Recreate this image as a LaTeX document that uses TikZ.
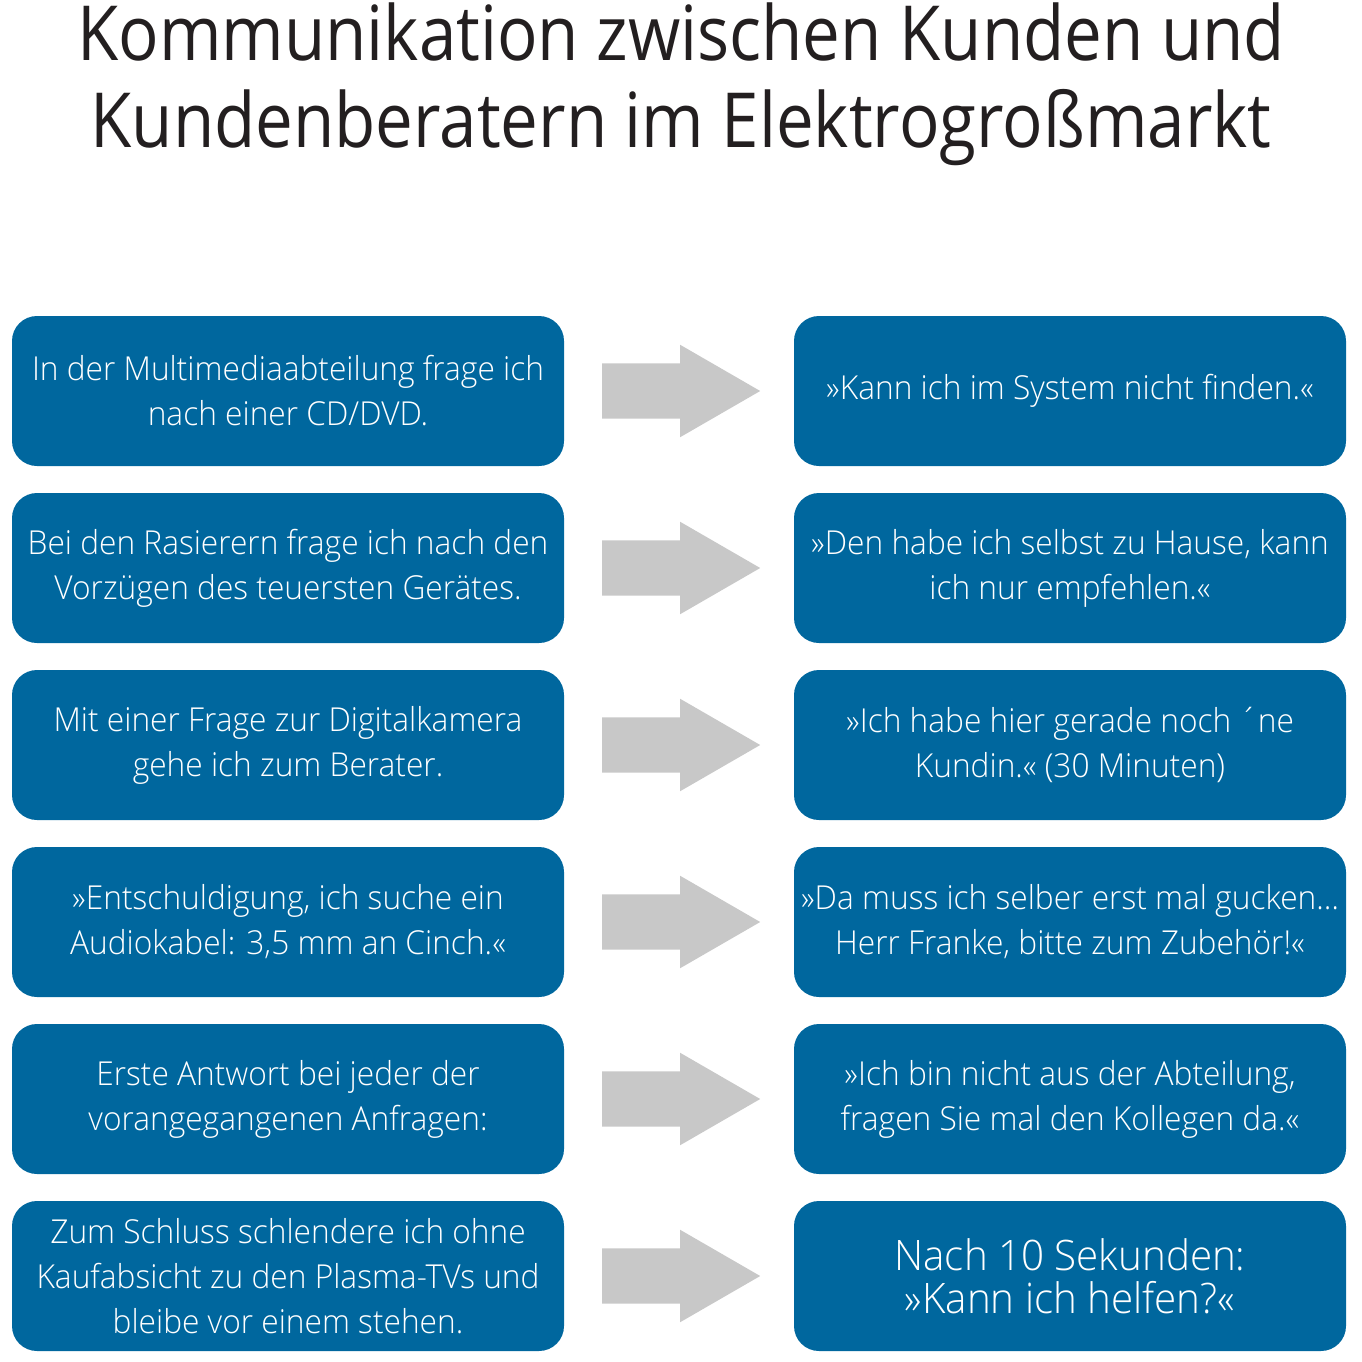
\documentclass[tikz,border=0pt]{standalone}
\usepackage{fontspec}
\setmainfont{Open Sans Light}[FakeStretch=0.96]
\newfontfamily\titelfont{Open Sans}[FakeStretch=0.885]
\usetikzlibrary{shapes.arrows}
\definecolor{kastenblau}{RGB}{0,103,158}
\definecolor{pfeilgrau}{RGB}{200,200,200}
\definecolor{titelschwarz}{RGB}{35,31,32}
\tikzset{
	kasten/.style={fill=kastenblau, rounded corners=25pt, minimum width=552pt, minimum height=150pt,
		inner sep=0pt, text=white, align=center, font=\fontsize{33}{45}\selectfont},
	pfeil/.style={single arrow, fill=pfeilgrau, minimum height=158pt, single arrow tip angle=60,
		single arrow head extend=18.5pt, inner xsep=0pt, inner ysep=27.5pt, anchor=tail},
}

\begin{document}
\begin{tikzpicture}[x=1pt, y=-1pt]
		\useasboundingbox (0, 0) rectangle (1362, 1362);
		\node[font=\titelfont\fontsize{76}{87}\selectfont, text=titelschwarz, align=center, anchor=base] (titel) at (681, 147)
		{Kommunikation zwischen Kunden und\\Kundenberatern im Elektrogroßmarkt};

		\node[kasten] (f1) at (288, 391) {In der Multimediaabteilung frage ich\\nach einer CD/DVD.};
		\node[kasten] (a1) at (1070, 391) {»Kann ich im System nicht finden.«};
		\node[pfeil] (p1) at (602, 391) {};

		\node[kasten] (f2) at (288, 568) {Bei den Rasierern frage ich nach den\\Vorzügen des teuersten Gerätes.};
		\node[kasten] (a2) at (1070, 568) {»Den habe ich selbst zu Hause, kann\\ich nur empfehlen.«};
		\node[pfeil] (p2) at (602, 568) {};

		\node[kasten] (f3) at (288, 745) {Mit einer Frage zur Digitalkamera\\gehe ich zum Berater.};
		\node[kasten] (a3) at (1070, 745) {»Ich habe hier gerade noch ´ne\\Kundin.« (30 Minuten)};
		\node[pfeil] (p3) at (602, 745) {};

		\node[kasten] (f4) at (288, 922) {»Entschuldigung, ich suche ein\\Audiokabel: 3,5 mm an Cinch.«};
		\node[kasten] (a4) at (1070, 922) {»Da muss ich selber erst mal gucken…\\Herr Franke, bitte zum Zubehör!«};
		\node[pfeil] (p4) at (602, 922) {};

		\node[kasten] (f5) at (288, 1099) {Erste Antwort bei jeder der\\vorangegangenen Anfragen:};
		\node[kasten] (a5) at (1070, 1099) {»Ich bin nicht aus der Abteilung,\\fragen Sie mal den Kollegen da.«};
		\node[pfeil] (p5) at (602, 1099) {};

		\node[kasten] (f6) at (288, 1276) {Zum Schluss schlendere ich ohne\\Kaufabsicht zu den Plasma-TVs und\\bleibe vor einem stehen.};
		\node[kasten, font=\fontsize{42}{43}\selectfont] (a6) at (1070, 1276) {Nach 10 Sekunden:\\»Kann ich helfen?«};
		\node[pfeil] (p6) at (602, 1276) {};
	\end{tikzpicture}
\end{document}
